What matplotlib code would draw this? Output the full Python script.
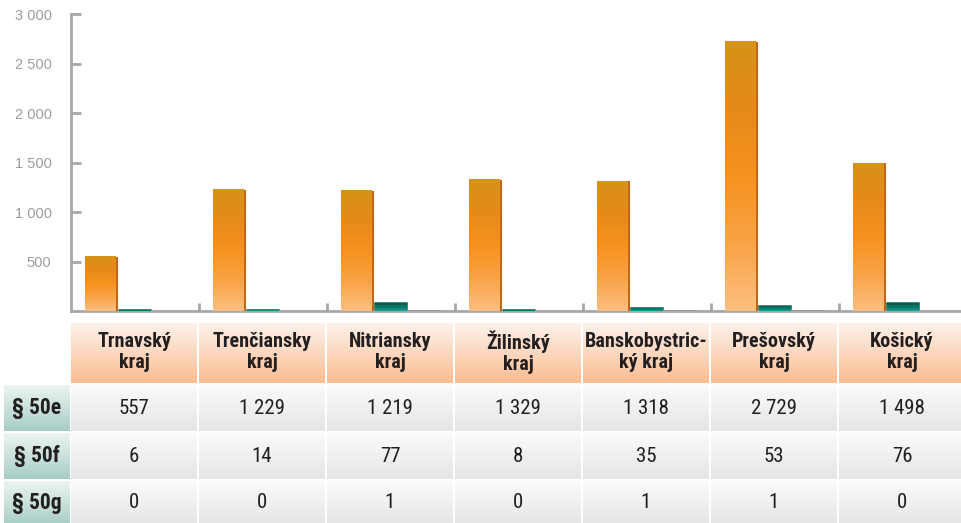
import numpy as np
import matplotlib
matplotlib.use("Agg")
import matplotlib.pyplot as plt
from matplotlib.colors import LinearSegmentedColormap

regions = ["Trnavský\nkraj", "Trenčiansky\nkraj", "Nitriansky\nkraj", "Žilinský\nkraj",
           "Banskobystric-\nký kraj", "Prešovský\nkraj", "Košický\nkraj"]
series_names = ["§ 50e", "§ 50f", "§ 50g"]
val_50e = [557, 1229, 1219, 1329, 1318, 2729, 1498]
val_50f = [6, 14, 77, 8, 35, 53, 76]
val_50g = [0, 0, 1, 0, 1, 1, 0]
yticks = [500, 1000, 1500, 2000, 2500, 3000]

narrow = ["Roboto Condensed", "DejaVu Sans"]
plain = ["Liberation Sans", "DejaVu Sans"]

W, H = 962, 523
fig = plt.figure(figsize=(W / 100, H / 100), dpi=100)

# chart area
ax = fig.add_axes([71 / W, 1 - 311 / H, (967 - 71) / W, (311 - 14) / H])
ax.set_xlim(0, 7)
ax.set_ylim(0, 3000)

orange = LinearSegmentedColormap.from_list("o", ["#fdbf80", "#f9a347", "#f7921e", "#e58a1a", "#d69317"])
teal = LinearSegmentedColormap.from_list("t", ["#1aa08f", "#007a68", "#00544a"])
grad = np.linspace(0, 1, 256).reshape(-1, 1)

def gradient_bars(bars, cmap):
    for b in bars:
        if b.get_height() <= 0:
            continue
        x0, y0 = b.get_x(), b.get_y()
        im = ax.imshow(grad, cmap=cmap, aspect="auto", origin="lower",
                       extent=[x0, x0 + b.get_width(), y0, y0 + b.get_height()],
                       zorder=3, interpolation="bilinear")
        im.set_clip_path(b)

x = np.arange(len(regions))
px = 1 / 128
b1 = ax.bar(x + 14 * px, val_50e, width=31 * px, align="edge", color="#f7921e", zorder=2)
gradient_bars(b1, orange)
# darker side strip on the orange bars
ax.bar(x + 45 * px, [v - 8 for v in val_50e], width=2 * px, align="edge", color="#c2661c", zorder=3)
lw_f = [1.2 if v > 0 else 0 for v in val_50f]
b2 = ax.bar(x + 48 * px, val_50f, width=32 * px, align="edge", color="#007a68",
            edgecolor="#0a7a6a", linewidth=lw_f, zorder=2)
gradient_bars(b2, teal)
lw_g = [1.2 if v > 0 else 0 for v in val_50g]
ax.bar(x + 81 * px, val_50g, width=32 * px, align="edge", color="#231f20",
       edgecolor="#231f20", linewidth=lw_g, zorder=2)

for s in ["top", "right"]:
    ax.spines[s].set_visible(False)
for s in ["left", "bottom"]:
    ax.spines[s].set_color("#a7a7ab")
    ax.spines[s].set_linewidth(2)
ax.set_yticks(yticks)
ax.set_yticklabels([f"{v:,}".replace(",", " ") for v in yticks], fontfamily=plain,
                   fontsize=10.5, color="#9d9da1")
ax.tick_params(axis="y", direction="in", length=7, width=2, color="#a7a7ab", pad=14)
ax.set_xticks(x[1:])
ax.set_xticklabels([])
ax.tick_params(axis="x", direction="in", length=6, width=2, color="#a7a7ab")

# table area in pixel coordinates
tax = fig.add_axes([0, 0, 1, 1])
tax.set_xlim(0, W)
tax.set_ylim(H, 0)
tax.axis("off")

head_cm = LinearSegmentedColormap.from_list("h", ["#fdf2ec", "#fbbd91"])
cell_cm = LinearSegmentedColormap.from_list("c", ["#fbfbfb", "#e5e5e6"])
rowh_cm = LinearSegmentedColormap.from_list("r", ["#edf5f2", "#a6cdc5"])

def cell(x0, y0, w, h, cmap):
    tax.imshow(grad, cmap=cmap, aspect="auto", origin="upper",
               extent=[x0, x0 + w, y0 + h, y0], interpolation="bilinear")

col_x = [71 + 128 * i for i in range(len(regions))]
for cx, name in zip(col_x, regions):
    cell(cx, 323, 126, 60, head_cm)
    tax.text(cx + 63, 352, name, ha="center", va="center", fontsize=14.5,
             fontweight="bold", fontfamily=narrow, color="#231f20", linespacing=1.15)

row_y = [385, 433, 481]
row_h = [46, 46, 44]
for ry, rh, name, vals in zip(row_y, row_h, series_names, [val_50e, val_50f, val_50g]):
    cell(4, ry, 66, rh, rowh_cm)
    tax.text(37, ry + rh / 2, name, ha="center", va="center", fontsize=15.5,
             fontweight="bold", fontfamily=narrow, color="#231f20")
    for cx, v in zip(col_x, vals):
        cell(cx, ry, 126, rh, cell_cm)
        tax.text(cx + 63, ry + rh / 2, f"{v:,}".replace(",", " "), ha="center", va="center",
                 fontsize=15, fontfamily=narrow, color="#231f20")

tax.set_xlim(0, W)
tax.set_ylim(H, 0)

fig.savefig("out.png", dpi=100)
